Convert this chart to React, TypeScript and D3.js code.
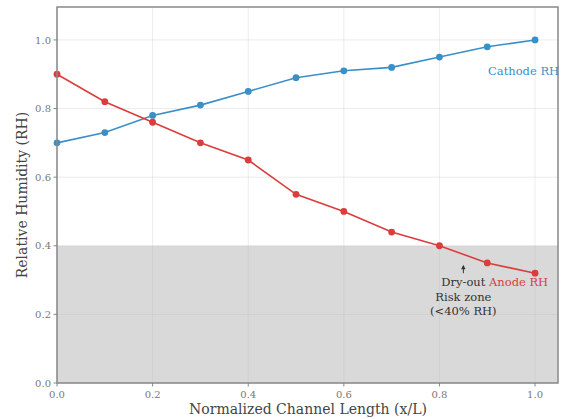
import React from 'react';
import * as d3 from 'd3';

const positions = [0, 0.1, 0.2, 0.3, 0.4, 0.5, 0.6, 0.7, 0.8, 0.9, 1.0];
const cathodeRH = [0.7, 0.73, 0.78, 0.81, 0.85, 0.89, 0.91, 0.92, 0.95, 0.98, 1.0];
const anodeRH = [0.9, 0.82, 0.76, 0.7, 0.65, 0.55, 0.5, 0.44, 0.4, 0.35, 0.32];
const xTicks = [0, 0.2, 0.4, 0.6, 0.8, 1.0];
const yTicks = [0, 0.2, 0.4, 0.6, 0.8, 1.0];
const riskThreshold = 0.4;

const width = 562;
const height = 419;
const margin = { top: 7, right: 4, bottom: 36, left: 57 };
const font = 'DejaVu Serif, serif';
const blue = '#3a8fc8';
const red = '#dc3c3c';

export default function App() {
  const x = d3.scaleLinear().domain([0, 1.048]).range([margin.left, width - margin.right]);
  const y = d3.scaleLinear().domain([0, 1.096]).range([height - margin.bottom, margin.top]);
  const line = d3
    .line<number>()
    .x((_, i) => x(positions[i]))
    .y((d) => y(d));

  const series = [
    { name: 'cathode', values: cathodeRH, color: blue },
    { name: 'anode', values: anodeRH, color: red },
  ];
  const ax = x(0.85);

  return (
    <svg width={width} height={height} style={{ position: 'absolute', left: 0, top: 0 }}>
      <rect x={0} y={0} width={width} height={height} fill="#fff" />
      {/* risk zone */}
      <rect
        x={x(0)}
        y={y(riskThreshold)}
        width={x(1.048) - x(0)}
        height={y(0) - y(riskThreshold)}
        fill="#d9d9d9"
      />
      {/* grid */}
      {xTicks.map((t) => (
        <line key={'gx' + t} x1={x(t)} x2={x(t)} y1={y(0)} y2={y(1.096)} stroke="#bbb" strokeOpacity={0.35} strokeWidth={0.8} />
      ))}
      {yTicks.map((t) => (
        <line key={'gy' + t} x1={x(0)} x2={x(1.048)} y1={y(t)} y2={y(t)} stroke="#bbb" strokeOpacity={0.35} strokeWidth={0.8} />
      ))}
      {/* lines */}
      {series.map((s) => (
        <g key={s.name}>
          <path d={line(s.values) || ''} fill="none" stroke={s.color} strokeWidth={1.6} />
          {s.values.map((v, i) => (
            <circle key={i} cx={x(positions[i])} cy={y(v)} r={3.4} fill={s.color} />
          ))}
        </g>
      ))}
      {/* frame */}
      <rect
        x={x(0)}
        y={y(1.096)}
        width={x(1.048) - x(0)}
        height={y(0) - y(1.096)}
        fill="none"
        stroke="#888"
        strokeWidth={1.5}
      />
      {/* ticks */}
      {xTicks.map((t) => (
        <g key={'tx' + t}>
          <line x1={x(t)} x2={x(t)} y1={y(0)} y2={y(0) + 3.5} stroke="#888" />
          <text x={x(t)} y={y(0) + 15} textAnchor="middle" fontFamily={font} fontSize={10} fill="#777">
            {d3.format('.1f')(t)}
          </text>
        </g>
      ))}
      {yTicks.map((t) => (
        <g key={'ty' + t}>
          <line x1={x(0) - 3.5} x2={x(0)} y1={y(t)} y2={y(t)} stroke="#888" />
          <text x={x(0) - 6} y={y(t) + 3.6} textAnchor="end" fontFamily={font} fontSize={10} fill="#777">
            {d3.format('.1f')(t)}
          </text>
        </g>
      ))}
      {/* axis labels */}
      <text x={308} y={414} textAnchor="middle" fontFamily={font} fontSize={14} fill="#444">
        Normalized Channel Length (x/L)
      </text>
      <text
        transform={`translate(27,${(y(0) + y(1.096)) / 2}) rotate(-90)`}
        textAnchor="middle"
        fontFamily={font}
        fontSize={14}
        fill="#444"
      >
        Relative Humidity (RH)
      </text>
      {/* labels */}
      <text x={488} y={y(0.91) + 4} fontFamily={font} fontSize={11.5} fill={blue}>
        Cathode RH
      </text>
      <text x={489} y={y(0.293) + 4} fontFamily={font} fontSize={11.5} fill={red}>
        Anode RH
      </text>
      {/* annotation */}
      <line x1={ax} x2={ax} y1={y(0.32)} y2={y(0.335)} stroke="#333" strokeWidth={1} />
      <path d={`M${ax},${y(0.345)} l-2.2,4.5 l4.4,0 Z`} fill="#333" />
      <text fontFamily={font} fontSize={11.5} fill="#333" textAnchor="middle">
        <tspan x={ax} y={y(0.293) + 4}>Dry-out</tspan>
        <tspan x={ax} dy={14.5}>Risk zone</tspan>
        <tspan x={ax} dy={14.5}>(&lt;40% RH)</tspan>
      </text>
    </svg>
  );
}
